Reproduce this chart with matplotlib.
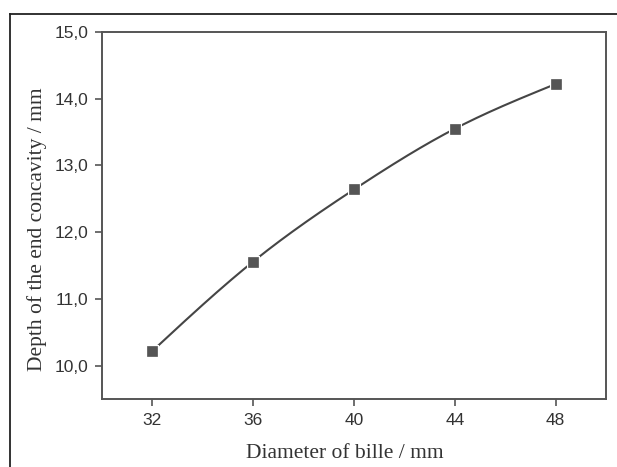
import numpy as np
import matplotlib
matplotlib.use("Agg")
import matplotlib.pyplot as plt
from matplotlib.lines import Line2D
from matplotlib.ticker import FuncFormatter

diameter = [32, 36, 40, 44, 48]
depth = [10.22, 11.56, 12.64, 13.55, 14.22]
x_ticks = [32, 36, 40, 44, 48]
y_ticks = [10.0, 11.0, 12.0, 13.0, 14.0, 15.0]


def natural_spline(x, y, n=200):
    x = np.asarray(x, float)
    y = np.asarray(y, float)
    m = len(x)
    h = np.diff(x)
    A = np.zeros((m, m))
    b = np.zeros(m)
    A[0, 0] = A[-1, -1] = 1
    for i in range(1, m - 1):
        A[i, i - 1] = h[i - 1]
        A[i, i] = 2 * (h[i - 1] + h[i])
        A[i, i + 1] = h[i]
        b[i] = 6 * ((y[i + 1] - y[i]) / h[i] - (y[i] - y[i - 1]) / h[i - 1])
    M = np.linalg.solve(A, b)
    xs = np.linspace(x[0], x[-1], n)
    ys = np.empty_like(xs)
    for k, xv in enumerate(xs):
        i = min(np.searchsorted(x, xv, side="right") - 1, m - 2)
        t1 = x[i + 1] - xv
        t0 = xv - x[i]
        ys[k] = (M[i] * t1 ** 3 / (6 * h[i]) + M[i + 1] * t0 ** 3 / (6 * h[i])
                 + (y[i] / h[i] - M[i] * h[i] / 6) * t1
                 + (y[i + 1] / h[i] - M[i + 1] * h[i] / 6) * t0)
    return xs, ys


fig = plt.figure(figsize=(6.17, 4.67), dpi=100)
ax = fig.add_axes([102 / 617, 1 - 399 / 467, 504 / 617, 367 / 467])

xs, ys = natural_spline(diameter, depth)
ax.plot(xs, ys, color="#454545", lw=1.5, zorder=2)
ax.plot(diameter, depth, ls="none", marker="s", ms=7.5, mfc="#555555",
        mec="white", mew=2.2, zorder=3)
ax.plot(diameter, depth, ls="none", marker="s", ms=6.5, mfc="#555555",
        mec="#555555", mew=0.5, zorder=4)

ax.set_xlim(30, 50)
ax.set_ylim(9.5, 15.0)
ax.set_xticks(x_ticks)
ax.set_yticks(y_ticks)
ax.yaxis.set_major_formatter(FuncFormatter(lambda v, p: f"{v:.1f}".replace(".", ",")))

for s in ax.spines.values():
    s.set_color("#555555")
    s.set_linewidth(1.4)
ax.tick_params(direction="out", length=5, width=1.2, color="#555555",
               labelsize=12.5, labelcolor="#333333", pad=5)
for lab in ax.get_xticklabels() + ax.get_yticklabels():
    lab.set_family("Liberation Sans")

ax.set_xlabel("Diameter of bille / mm", family="Liberation Serif", fontsize=15.5,
              color="#333333", va="center", ha="center")
ax.set_ylabel("Depth of the end concavity / mm", family="Liberation Serif",
              fontsize=15.5, color="#333333", va="center", ha="center")
ax.xaxis.set_label_coords((345 - 102) / 504, (399 - 453) / 367)
ax.yaxis.set_label_coords((37 - 102) / 504, (399 - 229) / 367)

x0 = 10 / 617
y0 = 1 - 14 / 467
fig.add_artist(Line2D([x0, 1], [y0, y0], transform=fig.transFigure, color="#222222", lw=1.3))
fig.add_artist(Line2D([x0, x0], [0, y0], transform=fig.transFigure, color="#222222", lw=1.3))

fig.savefig("out.png", dpi=100)
